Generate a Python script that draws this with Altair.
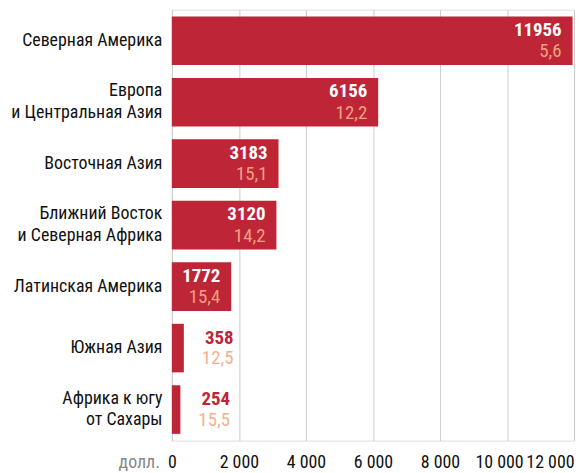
import altair as alt
import pandas as pd

regions = [
    "Северная Америка",
    "Европа|и Центральная Азия",
    "Восточная Азия",
    "Ближний Восток|и Северная Африка",
    "Латинская Америка",
    "Южная Азия",
    "Африка к югу|от Сахары",
]
values = [11956, 6156, 3183, 3120, 1772, 358, 254]
shares = ["5,6", "12,2", "15,1", "14,2", "15,4", "12,5", "15,5"]
inside = [True, True, True, True, True, False, False]

df = pd.DataFrame({"region": regions, "value": values, "share": shares, "inside": inside})

FONT = "Roboto Condensed"
RED = "#BE2537"

x_scale = alt.Scale(domain=[0, 12000], nice=False)
y_enc = alt.Y(
    "region:N",
    sort=regions,
    title=None,
    scale=alt.Scale(paddingInner=0.21, paddingOuter=0.11),
    axis=alt.Axis(
        labelExpr="split(datum.label, '|')",
        labelFont=FONT,
        labelFontSize=18,
        labelColor="#111",
        labelLineHeight=22,
        labelPadding=10,
        labelOffset={"condition": {"test": "indexof(datum.label, '|') >= 0", "value": -11}, "value": 0},
        ticks=False,
        domain=False,
        minExtent=165,
        maxExtent=165,
        labelLimit=200,
    ),
)

x_enc = alt.X(
    "value:Q",
    scale=x_scale,
    title=None,
    axis=alt.Axis(
        values=[0, 2000, 4000, 6000, 8000, 10000, 12000],
        labelExpr="replace(format(datum.value, ','), ',', ' ')",
        labelFont=FONT,
        labelFontSize=18,
        labelColor="#111",
        labelPadding=13,
        ticks=False,
        domain=False,
        grid=True,
        gridColor="#cccccc",
        gridWidth=1,
        labelAlign={"condition": {"test": "datum.value == 12000", "value": "right"}, "value": "center"},
        labelOffset={"condition": {"test": "datum.value == 10000", "value": -8}, "value": 0},
    ),
)

base = alt.Chart(df)

bars = base.mark_bar(color=RED).encode(x=x_enc, y=y_enc)

num_in = base.transform_filter("datum.inside").mark_text(
    align="right", dx=-11, dy=-11, font=FONT, fontSize=19, fontWeight="bold", color="white"
).encode(x=alt.X("value:Q", scale=x_scale), y=alt.Y("region:N", sort=regions), text="value:N")

share_in = base.transform_filter("datum.inside").mark_text(
    align="right", dx=-11, dy=10.5, font=FONT, fontSize=19, color="#F3A07F"
).encode(x=alt.X("value:Q", scale=x_scale), y=alt.Y("region:N", sort=regions), text="share:N")

num_out = base.transform_filter("!datum.inside").mark_text(
    align="right", dx=50, dy=-10.5, font=FONT, fontSize=19, fontWeight="bold", color=RED
).encode(x=alt.X("value:Q", scale=x_scale), y=alt.Y("region:N", sort=regions), text="value:N")

share_out = base.transform_filter("!datum.inside").mark_text(
    align="right", dx=50, dy=10.5, font=FONT, fontSize=19, color="#F7B08F"
).encode(x=alt.X("value:Q", scale=x_scale), y=alt.Y("region:N", sort=regions), text="share:N")

unit = alt.Chart(pd.DataFrame({"unit": ["долл."], "v": [0]})).mark_text(
    align="right", baseline="middle", dx=-12, font=FONT, fontSize=18, color="#888888"
).encode(x=alt.X("v:Q", scale=x_scale), y=alt.value(457), text="unit:N")

chart = alt.layer(bars, num_in, share_in, num_out, share_out, unit).properties(
    width=405, height=434, padding={"left": 0, "top": 0, "right": 5, "bottom": 5}
).configure_view(stroke=None).configure(background="white")

chart.save("out.html", embed_options={"renderer": "svg", "actions": False})
